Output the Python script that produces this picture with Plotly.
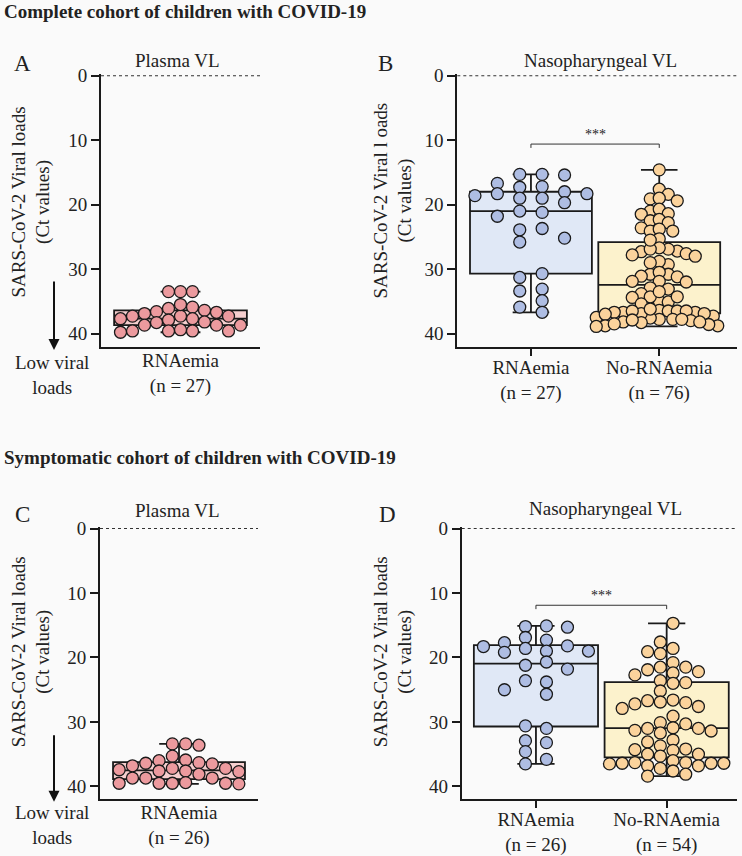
import numpy as np
import plotly.graph_objects as go

# ---------------- data (Ct values) ----------------
A_plasma = [33.5, 33.5, 33.5, 35.9, 36.9, 36.7, 37.3, 36.4, 37.7, 37.3, 36.1, 35.5, 36.6,
            37.9, 38.2, 38.7, 38.3, 38.7, 37.7, 37.3, 38.7, 39.6, 39.8, 39.6, 39.6, 39.6, 39.4]
B_rna = [15.3, 15.3, 15.4, 16.7, 17.3, 17.2, 18.3, 18.3, 19.0, 19.0, 18.0, 18.6, 19.7, 21.0,
         21.2, 21.8, 23.9, 23.7, 25.8, 25.2, 31.3, 30.7, 33.4, 33.1, 34.9, 35.9, 36.7]
B_norna = [14.6, 17.6, 19.1, 18.4, 19.0, 19.4, 21.0, 20.7, 21.4, 21.5, 22.5, 22.3, 22.8, 23.6,
           24.1, 23.8, 24.1, 25.3,
           27.2, 27.3, 26.9, 26.7, 27.8, 27.6, 26.9, 29.3, 28.8, 30.8, 31.1, 30.8, 31.2, 30.5,
           31.9, 31.9, 32.9, 33.1, 33.8, 34.4, 35.0, 34.3, 35.4, 35.1, 34.3,
           36.4, 36.5, 37.5, 37.8, 37.6, 37.3, 36.7, 36.9, 36.5, 36.5, 36.7, 36.5, 36.7, 37.0, 36.9,
           38.3, 37.8, 38.0, 38.8, 38.8, 38.2, 38.6, 38.2, 37.9, 37.8,
           29.0, 28.0, 32.0, 33.5, 25.5, 38.5, 36.2, 38.9]
C_plasma = [33.4, 33.4, 33.6, 35.3, 37.2, 36.3, 36.8, 36.4, 37.4, 36.5, 36.0, 35.9, 37.2, 37.6,
            39.5, 38.1, 38.7, 38.7, 39.6, 38.7, 39.5, 37.7, 37.6, 39.5, 39.5, 39.4]
D_rna = [15.2, 15.1, 15.3, 16.9, 17.3, 18.3, 18.2, 19.0, 19.0, 17.7, 19.2, 18.6, 20.7, 21.2,
         21.8, 23.8, 23.6, 25.7, 25.0, 31.0, 30.6, 33.2, 32.9, 34.6, 35.8, 36.5]
D_norna = [14.7, 17.6, 19.4, 19.1, 18.6, 20.8, 22.2, 21.5, 21.9, 21.5, 22.4, 22.7, 23.9, 23.6,
           24.0, 25.2, 27.0, 26.6, 26.9, 26.7, 27.2, 27.6, 27.9,
           29.1, 30.1, 31.4, 31.7, 31.0, 31.0, 30.9, 31.3, 30.3, 33.1, 32.8, 34.3, 34.4, 34.2,
           33.7, 35.0, 35.0, 35.3, 36.4, 36.4, 36.5, 36.8, 36.0, 36.8, 36.4, 37.2, 36.3, 36.3,
           38.1, 37.6, 38.4]

plasma_labels_top = ["RNAemia<br>(n = 27)"]
naso_labels_top = ["RNAemia<br>(n = 27)", "No-RNAemia<br>(n = 76)"]
plasma_labels_bot = ["RNAemia<br>(n = 26)"]
naso_labels_bot = ["RNAemia<br>(n = 26)", "No-RNAemia<br>(n = 54)"]
y_ticks = [0, 10, 20, 30, 40]

# ---------------- styling ----------------
W, H = 742, 856
FONT = "Liberation Serif"
TXT = "#222222"
EDGE = "#1a1a1a"
BG = "#fafafa"
PINK, PINK_BOX = "#ec9a9e", "#f6cfcf"
BLUE, BLUE_BOX = "#aebde3", "#e0e8f6"
YEL, YEL_BOX = "#fbd39c", "#fcf2cc"


def px_x(p):
    return p / W


def px_y(p):
    # vertical placement helper (pixel from top -> paper fraction), small empirical correction
    q = (p - 7.0) / 0.991
    return 1 - q / H


def swarm(values, ppx, ppy, step, dmin, half):
    """Simple grid beeswarm: returns x offsets (data units)."""
    vals = np.asarray(values, float)
    order = np.argsort(vals, kind="stable")
    placed = []
    offs = np.zeros(len(vals))
    flip = 1
    for i in order:
        yp = vals[i] * ppy
        cands = []
        for m in range(0, 80):
            mag = (m + 0.5) if half else m
            if mag == 0:
                cands.append(0.0)
            else:
                cands.append(flip * mag)
                cands.append(-flip * mag)
        for c in cands:
            xp = c * step
            if all(np.hypot(xp - a, yp - b) >= dmin for a, b in placed):
                placed.append((xp, yp))
                offs[i] = xp / ppx
                if c != 0:
                    flip = -1 if c > 0 else 1
                break
    return offs


def box_stats(v):
    v = np.asarray(v, float)
    q1, med, q3 = np.percentile(v, [25, 50, 75], method="weibull")
    return q1, med, q3, v.min(), v.max()


fig = go.Figure()

panels = [
    dict(ax="x", ay="y", groups=[(A_plasma, 0, PINK, PINK_BOX, (12.0, 10.5, False))],
         ppx=79.5, ppy=6.46, bw=1.67),
    dict(ax="x2", ay="y2", groups=[(B_rna, 0, BLUE, BLUE_BOX, (22.4, 10.0, True)),
                                   (B_norna, 1, YEL, YEL_BOX, (4.5, 9.0, False))],
         ppx=128.3, ppy=6.44, bw=0.95),
    dict(ax="x3", ay="y3", groups=[(C_plasma, 0, PINK, PINK_BOX, (13.3, 10.0, True))],
         ppx=79.0, ppy=6.46, bw=1.67),
    dict(ax="x4", ay="y4", groups=[(D_rna, 0, BLUE, BLUE_BOX, (21.0, 9.5, True)),
                                   (D_norna, 1, YEL, YEL_BOX, (12.7, 10.0, True))],
         ppx=130.7, ppy=6.45, bw=0.95),
]

for p in panels:
    for vals, cat, dot, fill, (step, dmin, half) in p["groups"]:
        q1, med, q3, lo, hi = box_stats(vals)
        fig.add_trace(go.Box(
            x=[cat], q1=[q1], median=[med], q3=[q3], lowerfence=[lo], upperfence=[hi],
            width=p["bw"], fillcolor=fill, line=dict(color=EDGE, width=1.8),
            whiskerwidth=0.3, boxpoints=False, hoverinfo="skip", showlegend=False,
            xaxis=p["ax"], yaxis=p["ay"]))
    for vals, cat, dot, fill, (step, dmin, half) in p["groups"]:
        offs = swarm(vals, p["ppx"], p["ppy"], step, dmin, half)
        fig.add_trace(go.Scatter(
            x=cat + offs, y=vals, mode="markers",
            marker=dict(size=12, color=dot, line=dict(color=EDGE, width=1.3)),
            showlegend=False, hoverinfo="y", xaxis=p["ax"], yaxis=p["ay"]))

axis_common = dict(showline=True, linecolor=EDGE, linewidth=2, showgrid=False, zeroline=False,
                   tickcolor=EDGE, tickwidth=2,
                   tickfont=dict(family=FONT, size=19, color=TXT))

yA = dict(axis_common, ticks="outside", ticklen=8, tickvals=y_ticks, range=[42.1, -0.3],
          domain=[px_y(347), px_y(73)])
yC = dict(axis_common, ticks="outside", ticklen=8, tickvals=y_ticks, range=[42.0, -0.3],
          domain=[px_y(800.5), px_y(527)])

fig.update_layout(
    width=W, height=H, margin=dict(l=0, r=0, t=0, b=0),
    paper_bgcolor=BG, plot_bgcolor=BG,
    xaxis=dict(axis_common, ticks="", tickvals=[0], ticktext=plasma_labels_top,
               ticklabelstandoff=-5,
               range=[-1, 1], domain=[px_x(101), px_x(260)], anchor="y"),
    yaxis=dict(yA, anchor="x"),
    xaxis2=dict(axis_common, ticks="outside", ticklen=7, tickvals=[0, 1], ticktext=naso_labels_top,
                ticklabelstandoff=-5,
                range=[-0.574, 1.606], domain=[px_x(457.3), px_x(737)], anchor="y2"),
    yaxis2=dict(yA, anchor="x2"),
    xaxis3=dict(axis_common, ticks="", tickvals=[0], ticktext=plasma_labels_bot,
                ticklabelstandoff=-5,
                range=[-1, 1], domain=[px_x(100), px_x(258)], anchor="y3"),
    yaxis3=dict(yC, anchor="x3"),
    xaxis4=dict(axis_common, ticks="outside", ticklen=7, tickvals=[0, 1], ticktext=naso_labels_bot,
                ticklabelstandoff=-5,
                range=[-0.568, 1.538], domain=[px_x(461.7), px_x(737)], anchor="y4"),
    yaxis4=dict(yC, anchor="x4"),
)

shapes = []
for xa, ya in [("x", "y"), ("x2", "y2"), ("x3", "y3"), ("x4", "y4")]:
    shapes.append(dict(type="line", xref=f"{xa} domain", yref=ya, x0=0, x1=1, y0=0, y1=0,
                       line=dict(color="#333333", width=1.2, dash="dot")))
for xa, ya, yb in [("x2", "y2", 10.6), ("x4", "y4", 11.9)]:
    shapes.append(dict(type="line", xref=xa, yref=ya, x0=0, x1=1, y0=yb, y1=yb,
                       line=dict(color="#333333", width=1)))
    for xv in (0, 1):
        shapes.append(dict(type="line", xref=xa, yref=ya, x0=xv, x1=xv, y0=yb, y1=yb + 0.6,
                           line=dict(color="#333333", width=1)))
fig.update_layout(shapes=shapes)

ann = []


def text(x, y, s, size=19, xanchor="center", angle=0, family=FONT):
    ann.append(dict(x=px_x(x), y=px_y(y), xref="paper", yref="paper", text=s, showarrow=False,
                    xanchor=xanchor, yanchor="middle", textangle=angle,
                    font=dict(family=family, size=size, color=TXT)))


text(2, 11, "<b>Complete cohort of children with COVID-19</b>", size=19, xanchor="left")
text(2, 458, "<b>Symptomatic cohort of children with COVID-19</b>", size=19, xanchor="left")
text(22, 63, "A", size=23)
text(385, 63, "B", size=23)
text(22, 515, "C", size=23)
text(387, 515, "D", size=23)
text(177, 60, "Plasma VL")
text(600, 60, "Nasopharyngeal VL")
text(177, 511, "Plasma VL")
text(605, 509, "Nasopharyngeal VL")
text(31, 202, "SARS-CoV-2 Viral loads<br>(Ct values)", angle=-90)
text(393, 200, "SARS-CoV-2 Viral l oads<br>(Ct values)", angle=-90)
text(31, 653, "SARS-CoV-2 Viral loads<br>(Ct values)", angle=-90)
text(393, 653, "SARS-CoV-2 Viral loads<br>(Ct values)", angle=-90)
text(52, 375, "Low viral<br>loads")
text(52, 826, "Low viral<br>loads")

for xa, ya, yb in [("x2", "y2", 10.6), ("x4", "y4", 11.9)]:
    ann.append(dict(x=0.5, y=yb, xref=xa, yref=ya, text="***", showarrow=False,
                    yanchor="bottom", yshift=0, font=dict(family=FONT, size=14, color=TXT)))

for head, tail in [(350, 280), (803, 735)]:
    ann.append(dict(x=px_x(54), y=px_y(head), xref="paper", yref="paper", text="",
                    showarrow=True, arrowhead=2, arrowsize=1.1, arrowwidth=2, arrowcolor="#111111",
                    ax=0, ay=-(head - tail)))

fig.update_layout(annotations=ann)

PAGE_FIX = (
    "document.documentElement.style.margin='0px';"
    "document.body.style.margin='0px';"
    "document.body.style.padding='0px';"
    "document.body.style.overflow='hidden';"
    "var gd=document.getElementsByClassName('plotly-graph-div')[0];"
    "gd.style.position='fixed';gd.style.top='0px';gd.style.left='0px';"
)

fig.write_html("out.html", config={"displayModeBar": False}, post_script=PAGE_FIX)
